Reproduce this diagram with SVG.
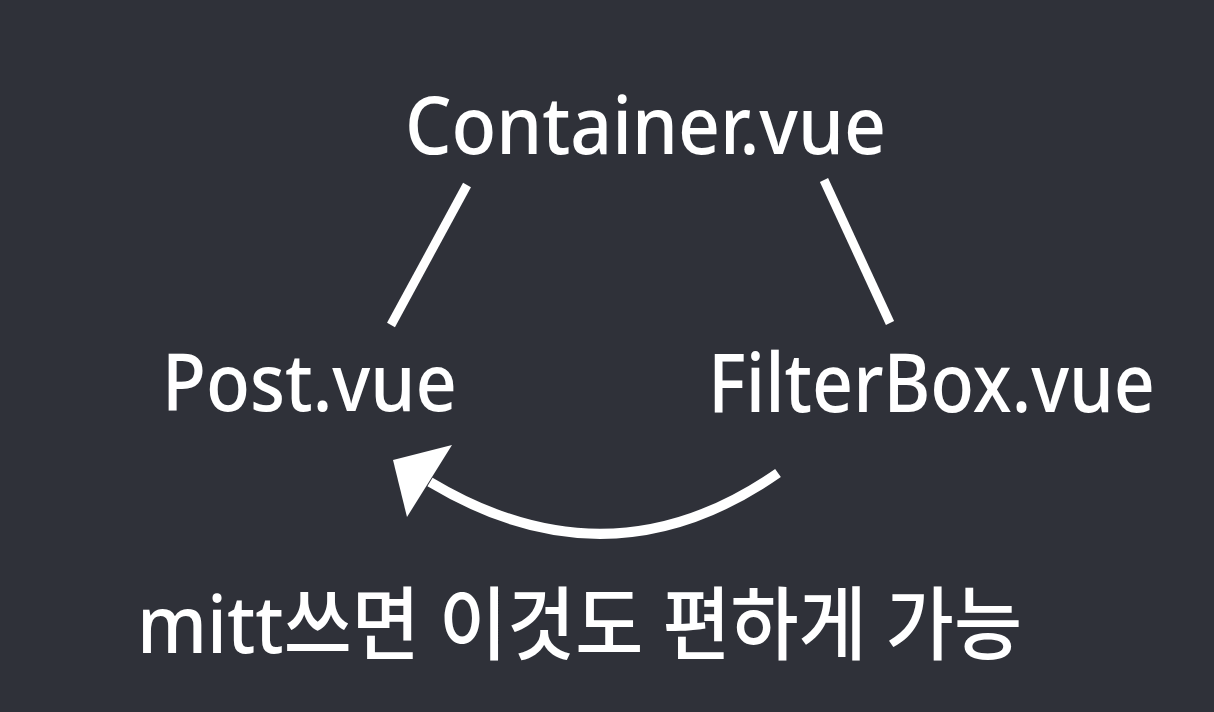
<svg xmlns="http://www.w3.org/2000/svg" width="1214" height="712" viewBox="0 0 1214 712">
<style>
.t{fill:#ffffff;font-family:"Noto Sans","Noto Sans CJK KR",sans-serif;font-weight:500}
.c{stroke:#ffffff;fill:none;stroke-linecap:butt}
</style>
<rect width="1214" height="712" fill="#2f3139"/>
<g id="container"><text class="t" x="405" y="154" font-size="80" textLength="481" lengthAdjust="spacingAndGlyphs">Container.vue</text></g>
<g id="post"><text class="t" x="162" y="411" font-size="80" textLength="295" lengthAdjust="spacingAndGlyphs">Post.vue</text></g>
<g id="filterbox"><text class="t" x="708" y="412" font-size="82" textLength="447" lengthAdjust="spacingAndGlyphs">FilterBox.vue</text></g>
<g id="caption"><text class="t" x="137" y="653" font-size="80" textLength="885" lengthAdjust="spacingAndGlyphs">mitt쓰면 이것도 편하게 가능</text></g>
<g id="connectors">
<line class="c" x1="467" y1="185" x2="391" y2="325" stroke-width="9"/>
<line class="c" x1="824" y1="180" x2="890" y2="323" stroke-width="9"/>
<path class="c" d="M778,473 Q610,590 430,482" stroke-width="10"/>
<polygon points="393,460 452,445 407,517" fill="#ffffff"/>
</g>
</svg>
